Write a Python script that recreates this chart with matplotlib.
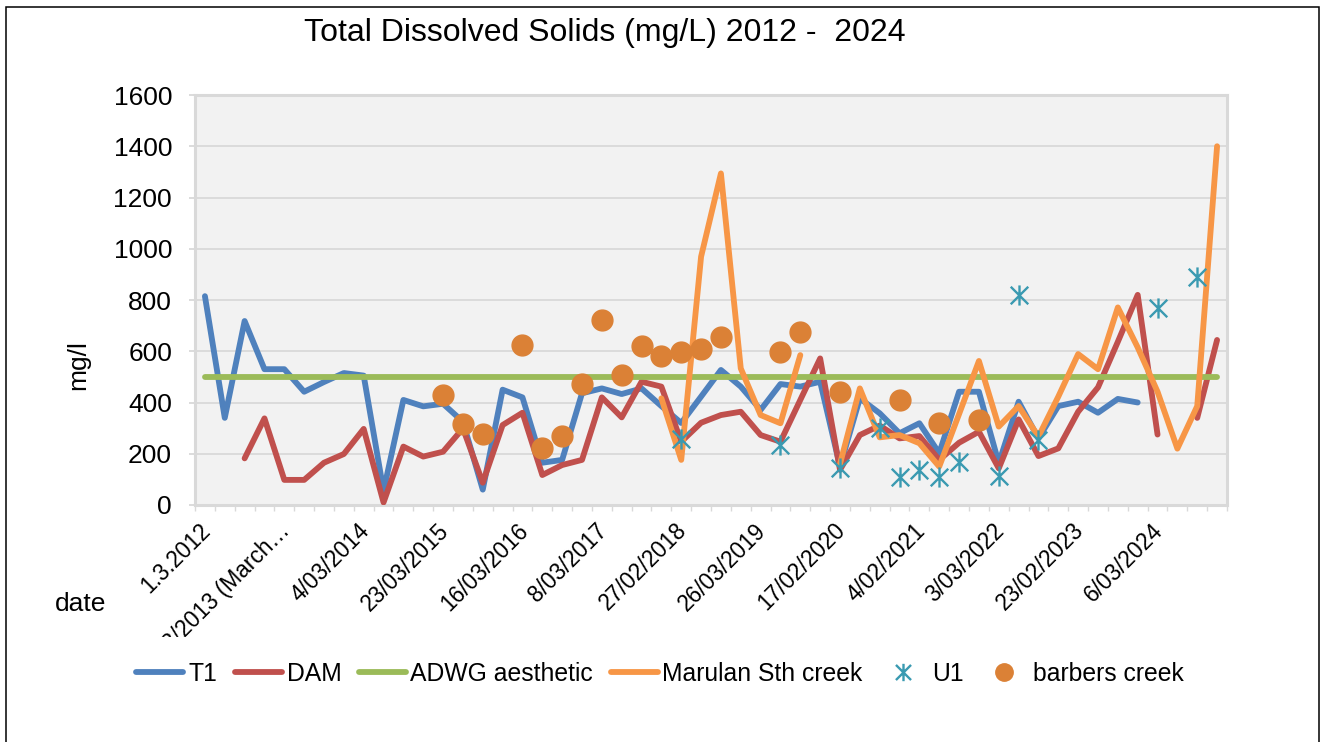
import numpy as np
import matplotlib
matplotlib.use("Agg")
import matplotlib.pyplot as plt
from matplotlib.path import Path
from matplotlib.patches import Rectangle
from matplotlib.lines import Line2D
from matplotlib.transforms import Bbox, ScaledTranslation

nan = np.nan

# Total dissolved solids (mg/L) per sampling date, 52 sampling rounds
t1 = [815, 340, 718, 530, 530, 442, 480, 515, 505, 55,
      410, 385, 395, 325, 60, 450, 420, 165, 176, 436,
      455, 433, 455, 386, 320, 423, 527, 462, 371, 472,
      462, 481, 150, 416, 358, 280, 319, 202, 442, 442,
      163, 403, 260, 386, 403, 360, 414, 400, nan, nan,
      nan, nan]
dam = [nan, nan, 182, 338, 98, 98, 165, 199, 297, 10,
       228, 189, 208, 299, 87, 312, 360, 117, 156, 176,
       420, 342, 481, 462, 247, 321, 351, 364, 273, 247,
       410, 572, 137, 273, 310, 260, 269, 176, 243, 286,
       143, 334, 191, 221, 364, 459, 637, 820, 275, nan,
       340, 644]
adwg = [500] * 52
marulan = [nan] * 23 + [416, 176, 969, 1294, 533, 351, 319, 585, nan,
                        160, 455, 264, 273, 241, 150, 355, 562, 306, 386,
                        267, 423, 589, 530, 771, 615, 442, 220, 386, 1400]
u1 = [nan] * 52
for i, v in {24: 256, 29: 234, 32: 143, 34: 299, 35: 108, 36: 137, 37: 111,
             38: 169, 40: 113, 41: 820, 42: 254, 48: 768, 50: 889}.items():
    u1[i] = v
barbers = [nan] * 52
for i, v in {12: 429, 13: 316, 14: 277, 16: 624, 17: 221, 18: 269, 19: 472,
             20: 722, 21: 507, 22: 622, 23: 581, 24: 598, 25: 609, 26: 657,
             29: 596, 30: 674, 32: 442, 35: 410, 37: 321, 39: 332}.items():
    barbers[i] = v

# category labels shown on every 4th sampling date
tick_labels = ["1.3.2012", "4/03/2013 (March\u2026", "4/03/2014", "23/03/2015",
               "16/03/2016", "8/03/2017", "27/02/2018", "26/03/2019",
               "17/02/2020", "4/02/2021", "3/03/2022", "23/02/2023", "6/03/2024"]
label_step = 4

series_names = ["T1", "DAM", "ADWG aesthetic", "Marulan Sth creek", "U1", "barbers creek"]

c_t1 = "#4F81BD"
c_dam = "#C0504D"
c_adwg = "#9BBB59"
c_mar = "#F79646"
c_u1 = "#3A9AB1"
c_bar = "#DB8136"
c_grid = "#D9D9D9"

W, H = 1320, 742
plt.rcParams['font.family'] = ['Liberation Sans', 'DejaVu Sans']
fig = plt.figure(figsize=(W / 100, H / 100), dpi=100)

L, R, T, B = 195, 1227, 95, 505
ax = fig.add_axes([L / W, 1 - B / H, (R - L) / W, (B - T) / H])
ax.set_facecolor("#F2F2F2")

n = len(t1)
x = np.arange(n)
lw = 4.2
common = dict(lw=lw, solid_capstyle="round", solid_joinstyle="round")
ax.plot(x, t1, color=c_t1, zorder=3, **common)
ax.plot(x, dam, color=c_dam, zorder=4, **common)
ax.plot(x, adwg, color=c_adwg, zorder=5, **common)
ax.plot(x, marulan, color=c_mar, zorder=6, **common)

star = Path([(-1, -1), (1, 1), (-1, 1), (1, -1), (0, -1.15), (0, 1.15)],
            [Path.MOVETO, Path.LINETO] * 3)
ax.plot(x, u1, ls="none", marker=star, ms=14.5, mew=1.7, mfc="none",
        mec=c_u1, zorder=7)
ax.plot(x, barbers, ls="none", marker="o", ms=15, mfc=c_bar, mec=c_bar,
        zorder=8)

ax.set_xlim(-0.5, n - 0.5)
ax.set_ylim(0, 1600)
ax.set_yticks(np.arange(0, 1601, 200))
ax.yaxis.grid(True, color=c_grid, lw=1.3)
ax.set_axisbelow(True)
for s in ax.spines.values():
    s.set_color(c_grid)
    s.set_linewidth(2.2)
ax.tick_params(axis="y", length=4.5, width=1.3, color=c_grid, pad=12,
               labelsize=19, labelcolor="black")

# category boundary ticks
ax.set_xticks(np.arange(-0.5, n, 1.0))
ax.set_xticklabels([])
ax.tick_params(axis="x", length=4.5, width=1.0, color=c_grid)

# rotated date labels, clipped at the legend band
clip = Bbox([[0, H - 637], [W, H]])
xform = ax.get_xaxis_transform() + ScaledTranslation(2 / 100, -22 / 100, fig.dpi_scale_trans)
for k, lab in enumerate(tick_labels):
    t = fig.text(k * label_step, 0, lab, transform=xform, rotation=45,
                 rotation_mode="anchor", ha="right", va="center", fontsize=16.3)
    t.set_clip_box(clip)
    t.set_clip_on(True)

fig.text(605 / W, 1 - 33 / H, "Total Dissolved Solids (mg/L) 2012 -  2024",
         ha="center", va="center", fontsize=23)
fig.text(78 / W, 1 - 365 / H, "mg/l", rotation=90, ha="center", va="center",
         fontsize=19)
fig.text(81 / W, 1 - 604 / H, "date", ha="center", va="center", fontsize=19)

handles = [
    Line2D([], [], color=c_t1, lw=lw, solid_capstyle="round"),
    Line2D([], [], color=c_dam, lw=lw, solid_capstyle="round"),
    Line2D([], [], color=c_adwg, lw=lw, solid_capstyle="round"),
    Line2D([], [], color=c_mar, lw=lw, solid_capstyle="round"),
    Line2D([], [], ls="none", marker=star, ms=12.5, mew=1.7, mfc="none", mec=c_u1),
    Line2D([], [], ls="none", marker="o", ms=12.5, mfc=c_bar, mec=c_bar),
]
fig.legend(handles, series_names, loc="center", bbox_to_anchor=(660 / W, 1 - 674 / H),
           ncol=6, frameon=False, fontsize=17.8, handlelength=1.9,
           handletextpad=0.2, columnspacing=0.7, borderpad=0)

fig.add_artist(Rectangle((6.5 / W, -0.05), (1318.5 - 6.5) / W, 1.05 - 7 / H,
                         transform=fig.transFigure, fill=False, ec="black",
                         lw=1.1))

fig.savefig("out.png", dpi=100)
